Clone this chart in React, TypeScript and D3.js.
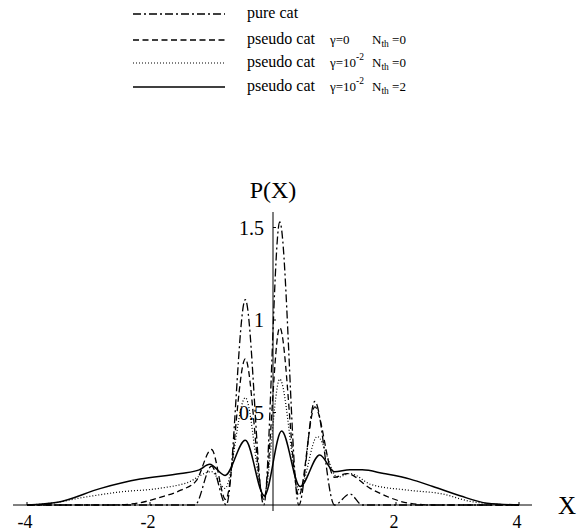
import React from "react";
import * as d3 from "d3";

type Pt = [number, number];

// Data (X, P(X))
const pureCat: Pt[] = [
  [-4, 0], [-1.6, 0], [-1.27, 0], [-1.0, 0.21], [-0.76, 0], [-0.45, 1.11],
  [-0.15, 0], [0.11, 1.53], [0.42, 0], [0.68, 0.56], [1.0, 0], [1.25, 0.06],
  [1.45, 0], [4, 0],
];
const pseudoG0: Pt[] = [
  [-4, 0], [-2.6, 0], [-2.2, 0.01], [-1.85, 0.04], [-1.5, 0.08], [-1.25, 0.13],
  [-1.0, 0.3], [-0.77, 0.03], [-0.45, 0.79], [-0.15, 0.03], [0.11, 0.96],
  [0.42, 0.05], [0.68, 0.53], [1.0, 0.15], [1.2, 0.17], [1.58, 0.09],
  [1.9, 0.04], [2.2, 0.01], [2.6, 0], [4, 0],
];
const pseudoG2N0: Pt[] = [
  [-4, 0], [-3.6, 0.01], [-3.1, 0.04], [-2.5, 0.07], [-1.85, 0.09], [-1.4, 0.12],
  [-1.0, 0.18], [-0.78, 0.09], [-0.45, 0.58], [-0.15, 0.04], [0.11, 0.68],
  [0.43, 0.08], [0.72, 0.37], [1.05, 0.15], [1.25, 0.17], [1.6, 0.11],
  [2.2, 0.08], [2.75, 0.06], [3.2, 0.02], [3.6, 0.005], [4, 0],
];
const pseudoG2N2: Pt[] = [
  [-4, 0], [-3.5, 0.015], [-2.8, 0.09], [-2.16, 0.14], [-1.5, 0.17], [-1.2, 0.19],
  [-1.03, 0.22], [-0.78, 0.16], [-0.45, 0.35], [-0.14, 0.05], [0.14, 0.4],
  [0.44, 0.1], [0.76, 0.27], [1.0, 0.18], [1.25, 0.19], [1.45, 0.19],
  [1.8, 0.17], [2.23, 0.14], [2.6, 0.1], [3.04, 0.05], [3.48, 0.01], [4, 0],
];

const xTicks = [-4, -2, 2, 4];
const yTicks = [0.5, 1, 1.5];

const seriesNames = ["pure cat", "pseudo cat", "pseudo cat", "pseudo cat"];
const gammaLabels = ["", "0", "10", "10"];
const gammaExps = ["", "", "-2", "-2"];
const nthLabels = ["", "0", "0", "2"];

const dashes = ["8,3,2,3", "6,3.5", "1,2", ""];

export default function App() {
  const W = 584, H = 531;
  const x = d3.scaleLinear().domain([-4, 4]).range([27, 519]);
  const y = d3.scaleLinear().domain([0, 1]).range([505, 320]);
  const line = d3.line<Pt>().x(d => x(d[0])).y(d => y(d[1])).curve(d3.curveMonotoneX);
  const data = [pureCat, pseudoG0, pseudoG2N0, pseudoG2N2];
  const widths = [1.3, 1.3, 1.2, 1.5];
  const font = "'Liberation Serif', 'Times New Roman', serif";
  const legendY = [14, 40, 63, 87];

  return (
    <svg width={W} height={H} style={{ position: "absolute", left: 0, top: 0, background: "#fff" }}
      fontFamily={font}>
      {/* legend */}
      {legendY.map((ly, i) => (
        <g key={i}>
          <line x1={133} x2={225} y1={ly} y2={ly} stroke="#000" strokeWidth={widths[i]}
            strokeDasharray={dashes[i] || undefined} />
          <text x={247} y={ly + 4} fontSize={16}>{seriesNames[i]}</text>
          {i > 0 && (
            <text x={330} y={ly + 4} fontSize={13}>
              γ={gammaLabels[i]}
              {gammaExps[i] && <tspan dy={-7} fontSize={9.5}>{gammaExps[i]}</tspan>}
            </text>
          )}
          {i > 0 && (
            <text x={372} y={ly + 4} fontSize={13}>
              N<tspan dy={3} fontSize={9.5}>th</tspan><tspan dy={-3}> =</tspan>{nthLabels[i]}
            </text>
          )}
        </g>
      ))}

      {/* axes */}
      <line x1={13} x2={532} y1={y(0)} y2={y(0)} stroke="#000" strokeWidth={1} />
      <line x1={x(0)} x2={x(0)} y1={212} y2={511} stroke="#000" strokeWidth={1} />
      {yTicks.map(t => (
        <g key={t}>
          <line x1={x(0)} x2={x(0) + 3} y1={y(t)} y2={y(t)} stroke="#000" />
          <text x={x(0) - 9} y={y(t) + 7} fontSize={20} textAnchor="end">{t}</text>
        </g>
      ))}
      {xTicks.map(t => (
        <g key={t}>
          <line x1={x(t)} x2={x(t)} y1={y(0)} y2={y(0) - 3} stroke="#000" />
          <text x={x(t) - 2} y={528} fontSize={18} textAnchor="middle">{t}</text>
        </g>
      ))}
      <text x={x(0)} y={198} fontSize={24} textAnchor="middle">P(X)</text>
      <text x={558} y={514} fontSize={25}>X</text>

      {/* curves */}
      {data.map((d, i) => (
        <path key={i} d={line(d) || ""} fill="none" stroke="#000" strokeWidth={widths[i]}
          strokeDasharray={dashes[i] || undefined} />
      ))}
    </svg>
  );
}
